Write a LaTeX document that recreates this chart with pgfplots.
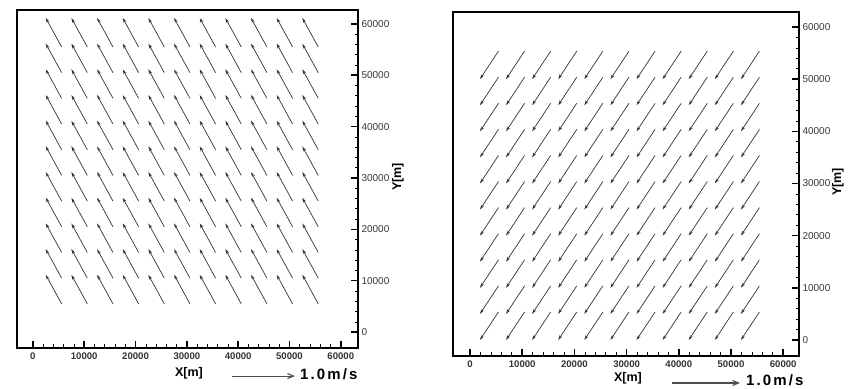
\documentclass[border=0pt]{standalone}
\usepackage{fontspec}
\setmainfont{Liberation Sans}
\usepackage{pgfplots}
\pgfplotsset{compat=1.18}
\usetikzlibrary{arrows.meta}

\pgfplotsset{
  vecaxis/.style={
    scale only axis,
    clip=false,
    xtick={0,10000,...,60000},
    ytick={0,10000,...,60000},
    minor tick num=4,
    tick align=inside,
    xtick pos=left, ytick pos=right,
    xticklabel pos=left, yticklabel pos=right,
    major tick length=7pt, minor tick length=3.5pt,
    major tick style={line width=1.5pt,black},
    minor tick style={line width=0.6pt,black},
    axis line style={line width=1.8pt},
    scaled ticks=false,
    /pgf/number format/1000 sep={},
    /pgf/number format/assume math mode=true,
    xticklabel style={font=\fontsize{9.6}{10}\selectfont\bfseries, text=black!80, yshift=-1pt},
    yticklabel style={font=\fontsize{10}{10}\selectfont, text=black!70!blue!30!gray!60!black},
  },
  vecstyle/.style={black!80, line width=0.7pt, -{Stealth[length=5pt,width=3pt]}},
  refstyle/.style={black!70, line width=1.1pt, -{Straight Barb[length=6pt,width=5pt]}},
}

\begin{document}
\begin{tikzpicture}
\path[use as bounding box] (0pt,0pt) rectangle (856pt,388pt);

% ---------------- left panel ----------------
\begin{axis}[vecaxis,
  at={(17pt,40pt)}, anchor=south west,
  width=341pt, height=338pt,
  xmin=-3100, xmax=63350, ymin=-3100, ymax=62700]
\addplot[vecstyle, quiver={u=\thisrow{u},v=\thisrow{v}}] table[row sep=\\] {
x y u v\\
5600 5500 -3100 5650\\ 10600 5500 -3100 5650\\ 15600 5500 -3100 5650\\ 20600 5500 -3100 5650\\ 25600 5500 -3100 5650\\ 30600 5500 -3100 5650\\ 35600 5500 -3100 5650\\ 40600 5500 -3100 5650\\ 45600 5500 -3100 5650\\ 50600 5500 -3100 5650\\ 55600 5500 -3100 5650\\
5600 10500 -3100 5650\\ 10600 10500 -3100 5650\\ 15600 10500 -3100 5650\\ 20600 10500 -3100 5650\\ 25600 10500 -3100 5650\\ 30600 10500 -3100 5650\\ 35600 10500 -3100 5650\\ 40600 10500 -3100 5650\\ 45600 10500 -3100 5650\\ 50600 10500 -3100 5650\\ 55600 10500 -3100 5650\\
5600 15500 -3100 5650\\ 10600 15500 -3100 5650\\ 15600 15500 -3100 5650\\ 20600 15500 -3100 5650\\ 25600 15500 -3100 5650\\ 30600 15500 -3100 5650\\ 35600 15500 -3100 5650\\ 40600 15500 -3100 5650\\ 45600 15500 -3100 5650\\ 50600 15500 -3100 5650\\ 55600 15500 -3100 5650\\
5600 20500 -3100 5650\\ 10600 20500 -3100 5650\\ 15600 20500 -3100 5650\\ 20600 20500 -3100 5650\\ 25600 20500 -3100 5650\\ 30600 20500 -3100 5650\\ 35600 20500 -3100 5650\\ 40600 20500 -3100 5650\\ 45600 20500 -3100 5650\\ 50600 20500 -3100 5650\\ 55600 20500 -3100 5650\\
5600 25500 -3100 5650\\ 10600 25500 -3100 5650\\ 15600 25500 -3100 5650\\ 20600 25500 -3100 5650\\ 25600 25500 -3100 5650\\ 30600 25500 -3100 5650\\ 35600 25500 -3100 5650\\ 40600 25500 -3100 5650\\ 45600 25500 -3100 5650\\ 50600 25500 -3100 5650\\ 55600 25500 -3100 5650\\
5600 30500 -3100 5650\\ 10600 30500 -3100 5650\\ 15600 30500 -3100 5650\\ 20600 30500 -3100 5650\\ 25600 30500 -3100 5650\\ 30600 30500 -3100 5650\\ 35600 30500 -3100 5650\\ 40600 30500 -3100 5650\\ 45600 30500 -3100 5650\\ 50600 30500 -3100 5650\\ 55600 30500 -3100 5650\\
5600 35500 -3100 5650\\ 10600 35500 -3100 5650\\ 15600 35500 -3100 5650\\ 20600 35500 -3100 5650\\ 25600 35500 -3100 5650\\ 30600 35500 -3100 5650\\ 35600 35500 -3100 5650\\ 40600 35500 -3100 5650\\ 45600 35500 -3100 5650\\ 50600 35500 -3100 5650\\ 55600 35500 -3100 5650\\
5600 40500 -3100 5650\\ 10600 40500 -3100 5650\\ 15600 40500 -3100 5650\\ 20600 40500 -3100 5650\\ 25600 40500 -3100 5650\\ 30600 40500 -3100 5650\\ 35600 40500 -3100 5650\\ 40600 40500 -3100 5650\\ 45600 40500 -3100 5650\\ 50600 40500 -3100 5650\\ 55600 40500 -3100 5650\\
5600 45500 -3100 5650\\ 10600 45500 -3100 5650\\ 15600 45500 -3100 5650\\ 20600 45500 -3100 5650\\ 25600 45500 -3100 5650\\ 30600 45500 -3100 5650\\ 35600 45500 -3100 5650\\ 40600 45500 -3100 5650\\ 45600 45500 -3100 5650\\ 50600 45500 -3100 5650\\ 55600 45500 -3100 5650\\
5600 50500 -3100 5650\\ 10600 50500 -3100 5650\\ 15600 50500 -3100 5650\\ 20600 50500 -3100 5650\\ 25600 50500 -3100 5650\\ 30600 50500 -3100 5650\\ 35600 50500 -3100 5650\\ 40600 50500 -3100 5650\\ 45600 50500 -3100 5650\\ 50600 50500 -3100 5650\\ 55600 50500 -3100 5650\\
5600 55500 -3100 5650\\ 10600 55500 -3100 5650\\ 15600 55500 -3100 5650\\ 20600 55500 -3100 5650\\ 25600 55500 -3100 5650\\ 30600 55500 -3100 5650\\ 35600 55500 -3100 5650\\ 40600 55500 -3100 5650\\ 45600 55500 -3100 5650\\ 50600 55500 -3100 5650\\ 55600 55500 -3100 5650\\
};
\addplot[refstyle] coordinates {(38780,-8565) (51050,-8565)};
\end{axis}

% ---------------- right panel ----------------
\begin{axis}[vecaxis,
  at={(453pt,32pt)}, anchor=south west,
  width=346pt, height=344pt,
  xmin=-3260, xmax=63030, ymin=-3070, ymax=62870]
\addplot[vecstyle, quiver={u=\thisrow{u},v=\thisrow{v}}] table[row sep=\\] {
x y u v\\
5450 5370 -3550 -5370\\ 10450 5370 -3550 -5370\\ 15450 5370 -3550 -5370\\ 20450 5370 -3550 -5370\\ 25450 5370 -3550 -5370\\ 30450 5370 -3550 -5370\\ 35450 5370 -3550 -5370\\ 40450 5370 -3550 -5370\\ 45450 5370 -3550 -5370\\ 50450 5370 -3550 -5370\\ 55450 5370 -3550 -5370\\
5450 10370 -3550 -5370\\ 10450 10370 -3550 -5370\\ 15450 10370 -3550 -5370\\ 20450 10370 -3550 -5370\\ 25450 10370 -3550 -5370\\ 30450 10370 -3550 -5370\\ 35450 10370 -3550 -5370\\ 40450 10370 -3550 -5370\\ 45450 10370 -3550 -5370\\ 50450 10370 -3550 -5370\\ 55450 10370 -3550 -5370\\
5450 15370 -3550 -5370\\ 10450 15370 -3550 -5370\\ 15450 15370 -3550 -5370\\ 20450 15370 -3550 -5370\\ 25450 15370 -3550 -5370\\ 30450 15370 -3550 -5370\\ 35450 15370 -3550 -5370\\ 40450 15370 -3550 -5370\\ 45450 15370 -3550 -5370\\ 50450 15370 -3550 -5370\\ 55450 15370 -3550 -5370\\
5450 20370 -3550 -5370\\ 10450 20370 -3550 -5370\\ 15450 20370 -3550 -5370\\ 20450 20370 -3550 -5370\\ 25450 20370 -3550 -5370\\ 30450 20370 -3550 -5370\\ 35450 20370 -3550 -5370\\ 40450 20370 -3550 -5370\\ 45450 20370 -3550 -5370\\ 50450 20370 -3550 -5370\\ 55450 20370 -3550 -5370\\
5450 25370 -3550 -5370\\ 10450 25370 -3550 -5370\\ 15450 25370 -3550 -5370\\ 20450 25370 -3550 -5370\\ 25450 25370 -3550 -5370\\ 30450 25370 -3550 -5370\\ 35450 25370 -3550 -5370\\ 40450 25370 -3550 -5370\\ 45450 25370 -3550 -5370\\ 50450 25370 -3550 -5370\\ 55450 25370 -3550 -5370\\
5450 30370 -3550 -5370\\ 10450 30370 -3550 -5370\\ 15450 30370 -3550 -5370\\ 20450 30370 -3550 -5370\\ 25450 30370 -3550 -5370\\ 30450 30370 -3550 -5370\\ 35450 30370 -3550 -5370\\ 40450 30370 -3550 -5370\\ 45450 30370 -3550 -5370\\ 50450 30370 -3550 -5370\\ 55450 30370 -3550 -5370\\
5450 35370 -3550 -5370\\ 10450 35370 -3550 -5370\\ 15450 35370 -3550 -5370\\ 20450 35370 -3550 -5370\\ 25450 35370 -3550 -5370\\ 30450 35370 -3550 -5370\\ 35450 35370 -3550 -5370\\ 40450 35370 -3550 -5370\\ 45450 35370 -3550 -5370\\ 50450 35370 -3550 -5370\\ 55450 35370 -3550 -5370\\
5450 40370 -3550 -5370\\ 10450 40370 -3550 -5370\\ 15450 40370 -3550 -5370\\ 20450 40370 -3550 -5370\\ 25450 40370 -3550 -5370\\ 30450 40370 -3550 -5370\\ 35450 40370 -3550 -5370\\ 40450 40370 -3550 -5370\\ 45450 40370 -3550 -5370\\ 50450 40370 -3550 -5370\\ 55450 40370 -3550 -5370\\
5450 45370 -3550 -5370\\ 10450 45370 -3550 -5370\\ 15450 45370 -3550 -5370\\ 20450 45370 -3550 -5370\\ 25450 45370 -3550 -5370\\ 30450 45370 -3550 -5370\\ 35450 45370 -3550 -5370\\ 40450 45370 -3550 -5370\\ 45450 45370 -3550 -5370\\ 50450 45370 -3550 -5370\\ 55450 45370 -3550 -5370\\
5450 50370 -3550 -5370\\ 10450 50370 -3550 -5370\\ 15450 50370 -3550 -5370\\ 20450 50370 -3550 -5370\\ 25450 50370 -3550 -5370\\ 30450 50370 -3550 -5370\\ 35450 50370 -3550 -5370\\ 40450 50370 -3550 -5370\\ 45450 50370 -3550 -5370\\ 50450 50370 -3550 -5370\\ 55450 50370 -3550 -5370\\
5450 55370 -3550 -5370\\ 10450 55370 -3550 -5370\\ 15450 55370 -3550 -5370\\ 20450 55370 -3550 -5370\\ 25450 55370 -3550 -5370\\ 30450 55370 -3550 -5370\\ 35450 55370 -3550 -5370\\ 40450 55370 -3550 -5370\\ 45450 55370 -3550 -5370\\ 50450 55370 -3550 -5370\\ 55450 55370 -3550 -5370\\
};
\addplot[refstyle] coordinates {(38700,-8240) (51720,-8240)};
\end{axis}

% ---------------- labels ----------------
\node[font=\fontsize{12.5}{14}\selectfont\bfseries] at (189pt,15pt) {X[m]};
\node[font=\fontsize{15}{16}\selectfont\bfseries\addfontfeature{LetterSpace=14}, anchor=west, inner sep=0pt] at (300pt,14pt) {1.0m/s};
\node[font=\fontsize{12.5}{14}\selectfont\bfseries, rotate=90] at (398pt,211pt) {Y[m]};

\node[font=\fontsize{12.5}{14}\selectfont\bfseries] at (628pt,10pt) {X[m]};
\node[font=\fontsize{15}{16}\selectfont\bfseries\addfontfeature{LetterSpace=14}, anchor=west, inner sep=0pt] at (746pt,8pt) {1.0m/s};
\node[font=\fontsize{12.5}{14}\selectfont\bfseries, rotate=90] at (838pt,206pt) {Y[m]};
\end{tikzpicture}
\end{document}
